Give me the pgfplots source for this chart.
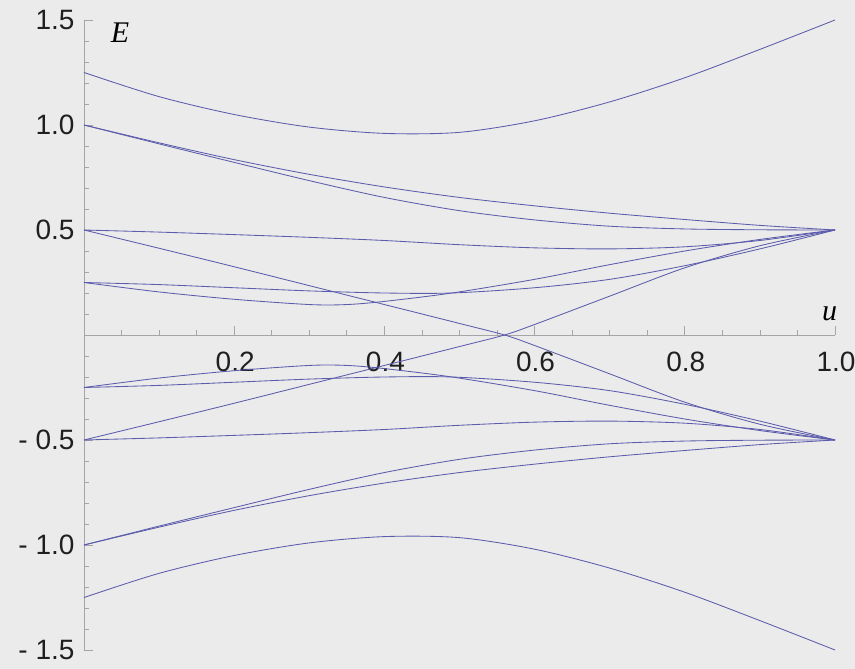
\documentclass[border=0pt]{standalone}
\usepackage{fontspec}
\setmainfont{Liberation Sans}
\newfontfamily\timesfont{Liberation Serif}
\usepackage{pgfplots}
\pgfplotsset{compat=1.18}
\definecolor{bg}{RGB}{235,235,235}
\definecolor{curve}{RGB}{92,92,172}
\definecolor{axgray}{RGB}{165,165,165}
\pgfplotsset{lv/.style={curve, line width=0.85pt, smooth, mark=none}}
\begin{document}
\begin{tikzpicture}
\fill[bg, use as bounding box] (-84pt,-19pt) rectangle (771pt,650pt);
\begin{axis}[
  at={(0,0)}, anchor=south west,
  scale only axis, width=751pt, height=630pt,
  xmin=0, xmax=1, ymin=-1.5, ymax=1.5,
  axis lines=middle,
  axis line style={-, draw=axgray, line width=0.8pt},
  clip=false,
  xtick={0.2,0.4,0.6,0.8,1.0}, xticklabels={0.2,0.4,0.6,0.8,1.0},
  minor xtick={0,0.05,...,1.0},
  ytick={-1.5,-1,-0.5,0.5,1,1.5},
  yticklabels={- 1.5,- 1.0,- 0.5,0.5,1.0,1.5},
  minor ytick={-1.5,-1.4,...,1.51},
  tick align=inside,
  major tick length=9pt, minor tick length=5pt,
  tick style={axgray, line width=0.8pt},
  every tick label/.append style={font=\fontsize{28}{30}\selectfont, text=black!88},
  xticklabel style={anchor=north, yshift=-13pt, xshift=1pt},
  yticklabel style={anchor=east, xshift=-6pt},
]
% A (top) and mirror
\addplot[lv] coordinates {(0,1.25)(0.1,1.135)(0.2,1.05)(0.3,0.99)(0.4,0.96)(0.5,0.965)(0.6,1.02)(0.7,1.11)(0.8,1.225)(0.9,1.36)(1,1.5)};
\addplot[lv] coordinates {(0,-1.25)(0.1,-1.135)(0.2,-1.05)(0.3,-0.99)(0.4,-0.96)(0.5,-0.965)(0.6,-1.02)(0.7,-1.11)(0.8,-1.225)(0.9,-1.36)(1,-1.5)};
% B1, B2
\addplot[lv] coordinates {(0,1)(0.1,0.915)(0.2,0.835)(0.3,0.765)(0.4,0.705)(0.5,0.655)(0.6,0.615)(0.7,0.58)(0.8,0.55)(0.9,0.522)(1,0.5)};
\addplot[lv] coordinates {(0,-1)(0.1,-0.915)(0.2,-0.835)(0.3,-0.765)(0.4,-0.705)(0.5,-0.655)(0.6,-0.615)(0.7,-0.58)(0.8,-0.55)(0.9,-0.522)(1,-0.5)};
\addplot[lv] coordinates {(0,1)(0.1,0.91)(0.2,0.822)(0.3,0.735)(0.4,0.655)(0.5,0.592)(0.6,0.548)(0.7,0.518)(0.8,0.505)(0.9,0.501)(1,0.5)};
\addplot[lv] coordinates {(0,-1)(0.1,-0.91)(0.2,-0.822)(0.3,-0.735)(0.4,-0.655)(0.5,-0.592)(0.6,-0.548)(0.7,-0.518)(0.8,-0.505)(0.9,-0.501)(1,-0.5)};
% C
\addplot[lv] coordinates {(0,0.5)(0.1,0.49)(0.2,0.478)(0.3,0.465)(0.4,0.45)(0.5,0.43)(0.6,0.415)(0.7,0.41)(0.8,0.42)(0.9,0.45)(1,0.5)};
\addplot[lv] coordinates {(0,-0.5)(0.1,-0.49)(0.2,-0.478)(0.3,-0.465)(0.4,-0.45)(0.5,-0.43)(0.6,-0.415)(0.7,-0.41)(0.8,-0.42)(0.9,-0.45)(1,-0.5)};
% D and F
\addplot[lv] coordinates {(0,0.5)(0.1,0.413)(0.2,0.325)(0.3,0.235)(0.4,0.145)(0.5,0.055)(0.56,0)(0.6,-0.05)(0.7,-0.185)(0.8,-0.32)(0.9,-0.425)(1,-0.5)};
\addplot[lv] coordinates {(0,-0.5)(0.1,-0.413)(0.2,-0.325)(0.3,-0.235)(0.4,-0.145)(0.5,-0.055)(0.56,0)(0.6,0.05)(0.7,0.185)(0.8,0.32)(0.9,0.425)(1,0.5)};
% E_a, E_b
\addplot[lv] coordinates {(0,0.25)(0.1,0.205)(0.2,0.17)(0.3,0.145)(0.35,0.145)(0.4,0.16)(0.49,0.2)(0.6,0.265)(0.7,0.335)(0.8,0.4)(0.9,0.455)(1,0.5)};
\addplot[lv] coordinates {(0,-0.25)(0.1,-0.205)(0.2,-0.17)(0.3,-0.145)(0.35,-0.145)(0.4,-0.16)(0.49,-0.2)(0.6,-0.265)(0.7,-0.335)(0.8,-0.4)(0.9,-0.455)(1,-0.5)};
\addplot[lv] coordinates {(0,0.25)(0.1,0.24)(0.2,0.225)(0.3,0.21)(0.4,0.2)(0.49,0.2)(0.6,0.225)(0.7,0.265)(0.8,0.33)(0.9,0.41)(1,0.5)};
\addplot[lv] coordinates {(0,-0.25)(0.1,-0.24)(0.2,-0.225)(0.3,-0.21)(0.4,-0.2)(0.49,-0.2)(0.6,-0.225)(0.7,-0.265)(0.8,-0.33)(0.9,-0.41)(1,-0.5)};
\node[font=\fontsize{30}{32}\timesfont\itshape] at (axis cs:0.048,1.44) {E};
\node[font=\fontsize{30}{32}\timesfont\itshape] at (axis cs:0.993,0.1) {u};
\end{axis}
\end{tikzpicture}
\end{document}
